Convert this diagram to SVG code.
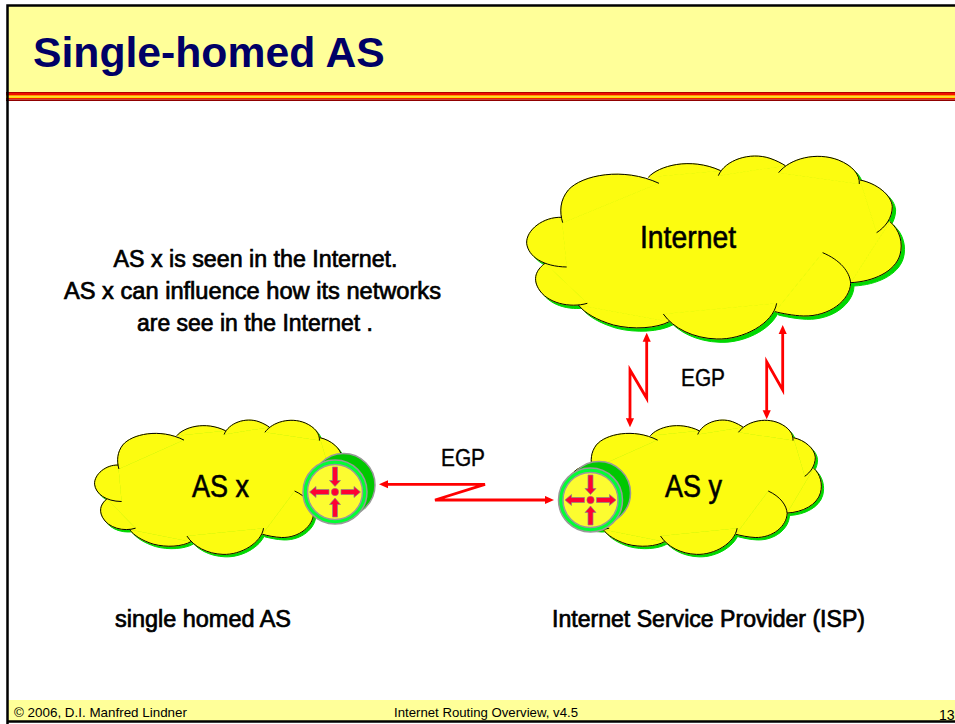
<svg xmlns="http://www.w3.org/2000/svg" xmlns:xlink="http://www.w3.org/1999/xlink" width="955" height="724" viewBox="0 0 955 724">
<style>
text{font-family:"Liberation Sans",Arial,sans-serif;fill:#000}
.title{font-size:42.7px;font-weight:bold;fill:#000066}
.body{font-size:23.3px;stroke:#000;stroke-width:.7px}
.med{font-size:23.5px;stroke:#000;stroke-width:.4px}
.big{font-size:31.5px;stroke:#000;stroke-width:.6px}
.foot{font-size:13.6px}
.shadow{fill:#00d800;stroke:#00d800;stroke-width:3}
.fill{fill:#fcfc10;stroke:#fcfc10;stroke-width:3}
#lobes{vector-effect:non-scaling-stroke}
.edge{fill:none;stroke:#000;stroke-width:1}
.link{fill:none;stroke:#ff0000;stroke-width:2.8;stroke-linejoin:miter;marker-start:url(#head);marker-end:url(#head)}
</style>
<defs>
<marker id="head" viewBox="0 0 10 10" refX="4.44" refY="5" markerUnits="userSpaceOnUse" markerWidth="9" markerHeight="9" orient="auto-start-reverse"><path d="M0,0.5L10,5L0,9.5z" fill="#ff0000"/></marker>
<path id="lobes" d="M158,248C148,215 150,180 175,150C215,105 340,80 447,130M415,112C445,78 540,50 632,92M625,107C645,60 720,35 780,55C800,62 815,70 826,77M806,98C840,55 920,35 985,60C1030,78 1050,105 1048,132M1050,120C1100,130 1145,165 1147,200C1147,235 1125,262 1100,278M1140,245C1170,270 1180,310 1170,345C1155,395 1090,425 1022,428M938,338C990,360 1020,395 1022,430C1020,480 960,530 880,528C850,527 815,520 795,515M800,490C790,550 700,600 620,597C550,595 490,565 460,522M478,545C440,565 370,570 310,555C260,540 225,520 205,495M232,490C180,505 110,490 85,445C65,410 85,385 105,370M170,381C100,380 55,350 50,310C48,270 100,230 155,232"/>
<polygon id="core" points="158,248 447,130 415,112 632,92 625,107 826,77 806,98 1048,132 1050,120 1100,278 1140,245 1022,428 938,338 795,515 800,490 460,522 478,545 205,495 232,490 105,370 170,381 155,232"/>
<g id="cloud">
<g class="shadow" transform="translate(10,10)"><use href="#lobes" style="stroke-width:1"/><use href="#core"/></g>
<g class="fill"><use href="#core"/><use href="#lobes" style="stroke-width:1"/></g>
<use href="#lobes" class="edge"/>
</g>
<g id="router">
<circle cx="8.500" cy="-7" r="31.500" fill="#00c800" stroke="#999" stroke-width="1.500"/>
<circle cx="4" cy="-3.500" r="31.500" fill="#00c800"/>
<circle r="32" fill="#00ff33" stroke="#999" stroke-width="1.500"/>
<circle r="27.500" fill="#fcfc30" stroke="#999" stroke-width="1.500"/>
<path fill="#ff0033" stroke="#888" stroke-width="0.700" d="M-2.500,-25H2.500V-11.500H5.500L0,-5.500L-5.500,-11.500H-2.500zM-2.500,25H2.500V12.500H5.500L0,6L-5.500,12.500H-2.500zM-6,-2.500H-19V-5.500L-25.500,0L-19,5.500V2.500H-6zM6,-2.500H19V-5.500L25.500,0L19,5.500V2.500H6z"/>
<circle r="3.700" fill="#ff0033" stroke="#888" stroke-width="0.500"/>
</g>
</defs>

<rect width="955" height="724" fill="#ffffff"/>
<g id="frame">
<rect x="7" y="5" width="948" height="88" fill="#ffff99"/>
<rect x="7" y="700" width="948" height="21" fill="#ffff99"/>
<rect x="6" y="92" width="949" height="1.500" fill="#b00000"/>
<rect x="6" y="93" width="949" height="2" fill="#f01000"/>
<rect x="6" y="95" width="949" height="1.500" fill="#ff9900"/>
<rect x="6" y="96.500" width="949" height="1.500" fill="#ffdd00"/>
<rect x="6" y="98" width="949" height="1.500" fill="#f02000"/>
<rect x="6" y="99.500" width="949" height="1.500" fill="#900000"/>
<path d="M7.500,724V5.500H955M7.500,721.500H955" fill="none" stroke="#000" stroke-width="2.500"/>
</g>
<text class="title" x="33" y="67">Single-homed AS</text>

<g id="node-internet">
<use href="#cloud" transform="matrix(.3333,0,0,.3333,510,140)"/>
<text class="big" x="640" y="248" textLength="96" lengthAdjust="spacingAndGlyphs">Internet</text>
</g>
<g id="node-as-x">
<use href="#cloud" transform="matrix(.2253,0,0,.2447,83.300,408.300)"/>
<text class="big" x="192" y="497" textLength="57" lengthAdjust="spacingAndGlyphs">AS x</text>
</g>
<g id="node-as-y">
<use href="#cloud" transform="matrix(.2253,0,0,.2447,556.900,408.300)"/>
<text class="big" x="665" y="497" textLength="57" lengthAdjust="spacingAndGlyphs">AS y</text>
</g>
<g id="node-router-x"><use href="#router" transform="translate(335,492)"/></g>
<g id="node-router-y"><use href="#router" transform="translate(590.500,500)"/></g>

<g id="connectors">
<path class="link" d="M384,484.300H485L435,500H549"/>
<path class="link" d="M646.700,337.700V398.300L630,370V422.300"/>
<path class="link" d="M782.700,330V390L766.700,361.700V414.300"/>
</g>

<g id="labels">
<text class="body" x="113.500" y="267" textLength="284" lengthAdjust="spacingAndGlyphs">AS x is seen in the Internet.</text>
<text class="body" x="64" y="298.500" textLength="377" lengthAdjust="spacingAndGlyphs">AS x can influence how its networks</text>
<text class="body" x="137" y="331" textLength="236" lengthAdjust="spacingAndGlyphs">are see in the Internet .</text>
<text class="med" x="681" y="386" textLength="44" lengthAdjust="spacingAndGlyphs">EGP</text>
<text class="med" x="441" y="466" textLength="44" lengthAdjust="spacingAndGlyphs">EGP</text>
<text class="body" x="115" y="627" textLength="176" lengthAdjust="spacingAndGlyphs">single homed AS</text>
<text class="body" x="552" y="627" textLength="313" lengthAdjust="spacingAndGlyphs">Internet Service Provider (ISP)</text>
<text class="foot" x="14" y="717" textLength="173" lengthAdjust="spacingAndGlyphs">© 2006, D.I. Manfred Lindner</text>
<text class="foot" x="394" y="717" textLength="184" lengthAdjust="spacingAndGlyphs">Internet Routing Overview, v4.5</text>
<text class="foot" x="939" y="720" style="font-size:14px">13</text>
</g>
</svg>
